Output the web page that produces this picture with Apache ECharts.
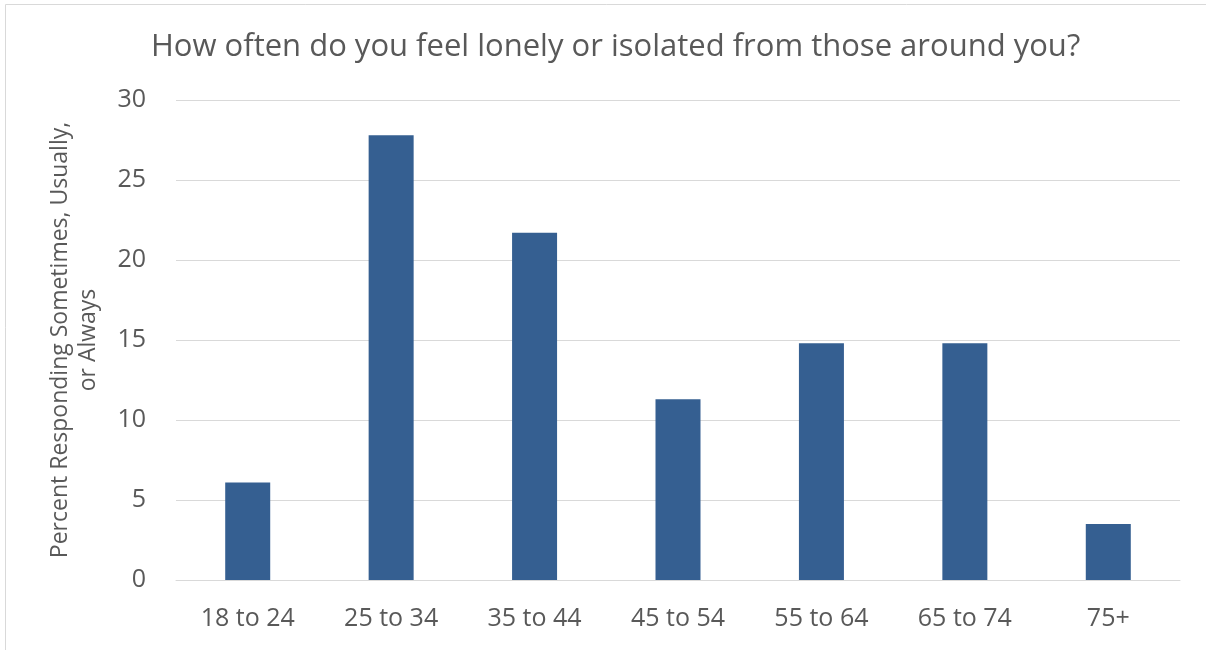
<!DOCTYPE html>
<html>
<head>
<meta charset="utf-8">
<script src="https://cdn.jsdelivr.net/npm/echarts@6/dist/echarts.min.js"></script>
<style>
  html, body { margin: 0; padding: 0; background: #fff; }
  #chart { width: 1206px; height: 650px; }
</style>
</head>
<body>
<div id="chart"></div>
<script>
  // Survey: share responding Sometimes / Usually / Always, by age group
  const ageGroups = ['18 to 24', '25 to 34', '35 to 44', '45 to 54', '55 to 64', '65 to 74', '75+'];
  const percentLonely = [6.1, 27.8, 21.7, 11.3, 14.8, 14.8, 3.5];
  const yTicks = [0, 5, 10, 15, 20, 25, 30];

  const font = '"Open Sans", "Liberation Sans", sans-serif';
  const grey = '#595959';

  const chart = echarts.init(document.getElementById('chart'));
  chart.setOption({
    animation: false,
    textStyle: { fontFamily: font },
    title: {
      text: 'How often do you feel lonely or isolated from those around you?',
      left: 146, top: 27,
      textStyle: { fontFamily: font, fontSize: 31, fontWeight: 'normal', color: grey }
    },
    graphic: [{
      type: 'rect', left: 3, top: 2,
      shape: { width: 1220, height: 660 },
      style: { fill: 'none', stroke: '#d9d9d9', lineWidth: 1 }
    }],
    grid: { left: 176, right: 26, top: 100, bottom: 70 },
    xAxis: {
      type: 'category',
      data: ageGroups,
      axisTick: { show: false },
      axisLine: { lineStyle: { color: '#d9d9d9' } },
      axisLabel: { fontFamily: font, fontSize: 25, color: grey, margin: 26 }
    },
    yAxis: {
      type: 'value',
      min: yTicks[0], max: yTicks[yTicks.length - 1], interval: 5,
      name: 'Percent Responding Sometimes, Usually,\nor Always',
      nameLocation: 'middle', nameGap: 74, nameRotate: 90,
      nameTextStyle: { fontFamily: font, fontSize: 23, color: grey, lineHeight: 28 },
      axisLine: { show: false },
      axisTick: { show: false },
      axisLabel: { fontFamily: font, fontSize: 25, color: grey, margin: 30 },
      splitLine: { lineStyle: { color: '#d9d9d9', width: 1 } }
    },
    series: [{
      type: 'bar',
      data: percentLonely,
      barWidth: 45,
      itemStyle: { color: '#355f91' }
    }]
  });
</script>
</body>
</html>
